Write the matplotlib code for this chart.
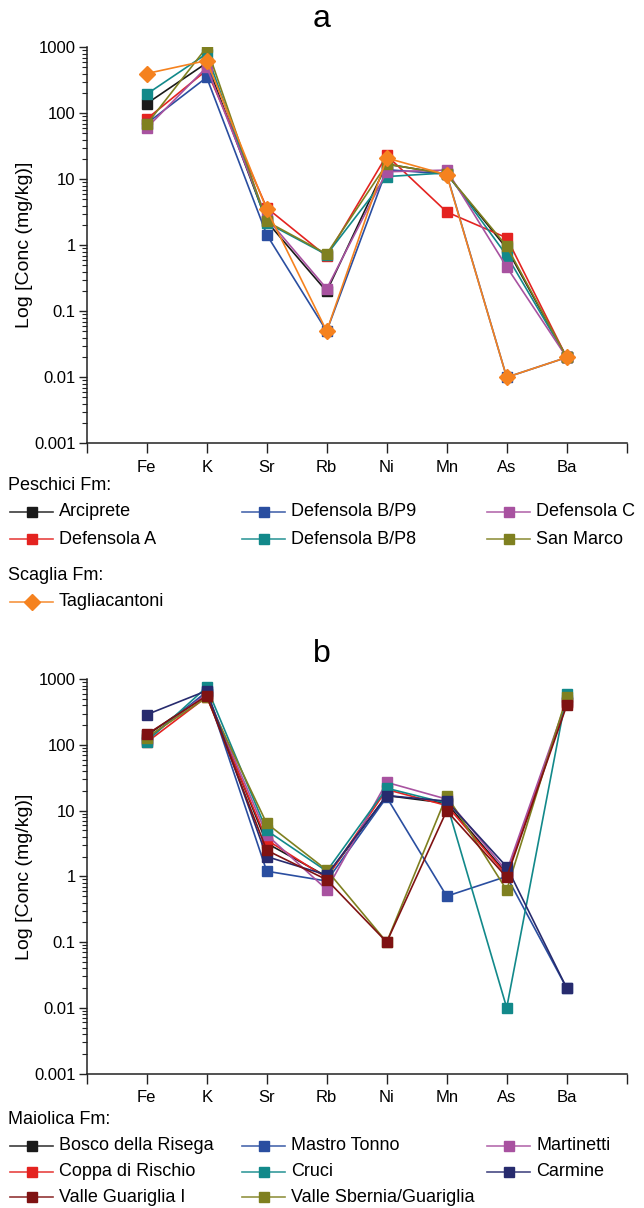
"""Log concentration profiles of trace elements, panels a and b."""
import matplotlib
matplotlib.use('Agg')
import matplotlib.pyplot as plt
from matplotlib.lines import Line2D
from matplotlib.ticker import LogLocator, FuncFormatter, FixedLocator, NullFormatter

plt.rcParams['font.family'] = ['Liberation Sans', 'DejaVu Sans']

# ── Data ───────────────────────────────────────────────────────────────────
elements = ['Fe', 'K', 'Sr', 'Rb', 'Ni', 'Mn', 'As', 'Ba']

# panel a — Peschici Fm
arciprete      = [140, 580, 2.3, 0.20, 17, 12, 0.90, 0.02]
defensola_a    = [82, 450, 3.7, 0.68, 23, 3.2, 1.3, 0.02]
defensola_bp9  = [70, 350, 1.45, 0.05, 14, 12, 0.01, 0.02]
defensola_bp8  = [195, 800, 2.2, 0.72, 11, 12.5, 0.70, 0.02]
defensola_c    = [60, 500, 2.6, 0.22, 13, 13.8, 0.47, 0.02]
san_marco      = [68, 1000, 2.3, 0.74, 17, 12, 0.97, 0.02]
# panel a — Scaglia Fm
tagliacantoni  = [400, 630, 3.5, 0.05, 21, 11.7, 0.01, 0.02]

# panel b — Maiolica Fm
bosco          = [140, 600, 3.2, 1.0, 17, 13, 1.1, 450]
coppa          = [110, 540, 3.6, 0.95, 21, 12, 1.05, 430]
valle_guar     = [145, 560, 2.5, 0.89, 0.1, 10, 0.97, 400]
mastro_tonno   = [120, 650, 1.2, 0.85, 16, 0.5, 1.0, 0.02]
cruci          = [113, 760, 5.0, 1.2, 22, 13, 0.01, 600]
valle_sbernia  = [130, 530, 6.4, 1.25, 0.1, 17, 0.62, 540]
martinetti     = [125, 600, 4.3, 0.63, 27, 15, 1.2, 480]
carmine        = [290, 670, 2.0, 1.05, 17, 14, 1.4, 0.02]

BLACK, RED, BLUE = '#1a1a1a', '#e42320', '#2a4ea0'
TEAL, MAG, OLIVE = '#12898a', '#a852a0', '#7f8020'
ORANGE, MAROON, NAVY = '#f5821f', '#7f1212', '#272b6e'

series_a = [  # label, values, colour, marker
    ('Arciprete', arciprete, BLACK, 's'),
    ('Defensola A', defensola_a, RED, 's'),
    ('Defensola B/P9', defensola_bp9, BLUE, 's'),
    ('Defensola B/P8', defensola_bp8, TEAL, 's'),
    ('Defensola C', defensola_c, MAG, 's'),
    ('San Marco', san_marco, OLIVE, 's'),
]
series_a2 = [('Tagliacantoni', tagliacantoni, ORANGE, 'D')]

series_b = [
    ('Bosco della Risega', bosco, BLACK, 's'),
    ('Coppa di Rischio', coppa, RED, 's'),
    ('Valle Guariglia I', valle_guar, MAROON, 's'),
    ('Mastro Tonno', mastro_tonno, BLUE, 's'),
    ('Cruci', cruci, TEAL, 's'),
    ('Valle Sbernia/Guariglia', valle_sbernia, OLIVE, 's'),
    ('Martinetti', martinetti, MAG, 's'),
    ('Carmine', carmine, NAVY, 's'),
]
draw_order_b = [0, 1, 3, 6, 4, 5, 7, 2]

W, H = 644, 1208
fig = plt.figure(figsize=(W / 100, H / 100), dpi=100)
fig.patch.set_facecolor('white')


def fx(x):
    return x / W


def fy(y):
    return 1 - y / H


AX_L, AX_R = 86.7, 626.7


def setup_axes(top, bottom, title, title_y):
    ax = fig.add_axes([fx(AX_L), fy(bottom), (AX_R - AX_L) / W, (bottom - top) / H])
    ax.set_yscale('log')
    ax.set_ylim(0.001, 1000)
    ax.set_xlim(0, 9)
    for s in ('top', 'right'):
        ax.spines[s].set_visible(False)
    for s in ('left', 'bottom'):
        ax.spines[s].set_linewidth(1.1)
        ax.spines[s].set_color('#222222')
    ax.yaxis.set_major_locator(LogLocator(base=10, numticks=10))
    ax.yaxis.set_minor_locator(LogLocator(base=10, subs=range(2, 10), numticks=20))
    ax.yaxis.set_major_formatter(FuncFormatter(lambda v, p: '{:g}'.format(v)))
    ax.yaxis.set_minor_formatter(NullFormatter())
    ax.xaxis.set_major_locator(FixedLocator(range(0, 10)))
    ax.set_xticklabels([''] + elements + [''])
    ax.tick_params(axis='y', which='major', direction='out', length=6, width=1.0,
                   labelsize=12, pad=2, color='#222222')
    ax.tick_params(axis='y', which='minor', direction='out', length=3.5, width=0.8,
                   color='#222222')
    ax.tick_params(axis='x', which='major', direction='out', length=7, width=1.0,
                   labelsize=12, pad=5, color='#222222')
    ax.set_ylabel('Log [Conc (mg/kg)]', fontsize=14)
    ax.yaxis.set_label_coords((33 - AX_L) / (AX_R - AX_L), 0.5)
    fig.text(0.5, fy(title_y), title, fontsize=23, ha='center', va='center')
    return ax


def plot_series(ax, label, vals, color, marker):
    ms = 8.5 if marker == 'D' else 6.5
    ax.plot(range(1, len(elements) + 1), vals, color=color, lw=1.2,
            marker=marker, ms=ms, mec=color, mfc=color, label=label)


ax_a = setup_axes(47.3, 443.3, 'a', 19)
for lab, v, c, m in series_a + series_a2:
    plot_series(ax_a, lab, v, c, m)

ax_b = setup_axes(679.3, 1073.5, 'b', 654)
for i in draw_order_b:
    plot_series(ax_b, *series_b[i])

# ── Legends (drawn in figure pixel space) ──────────────────────────────────
COL_X = [10, 242, 487]
HANDLE_W = 43
LEG_FS = 13


def legend_entry(x, y, label, color, marker):
    ms = 8.5 if marker == 'D' else 6.5
    fig.add_artist(Line2D([fx(x), fx(x + HANDLE_W)], [fy(y), fy(y)],
                          color=color, lw=1.2, alpha=0.85))
    fig.add_artist(Line2D([fx(x + HANDLE_W / 2)], [fy(y)], marker=marker,
                          ms=ms, color=color, mec=color, mfc=color))
    fig.text(fx(x + HANDLE_W + 6), fy(y), label, fontsize=LEG_FS,
             va='center', ha='left')


def legend_block(entries, y0, row_h):
    nrows = -(-len(entries) // 3)
    for k, (lab, v, c, m) in enumerate(entries):
        col, row = divmod(k, nrows)
        legend_entry(COL_X[col], y0 + row * row_h, lab, c, m)


fig.text(fx(8), fy(485), 'Peschici Fm:', fontsize=LEG_FS, va='center')
legend_block(series_a, 512, 27)
fig.text(fx(8), fy(576), 'Scaglia Fm:', fontsize=LEG_FS, va='center')
legend_block(series_a2, 602, 27)

fig.text(fx(8), fy(1119), 'Maiolica Fm:', fontsize=LEG_FS, va='center')
legend_block(series_b, 1146, 25.5)

plt.savefig('out.png', dpi=100, facecolor='white')
plt.close()
